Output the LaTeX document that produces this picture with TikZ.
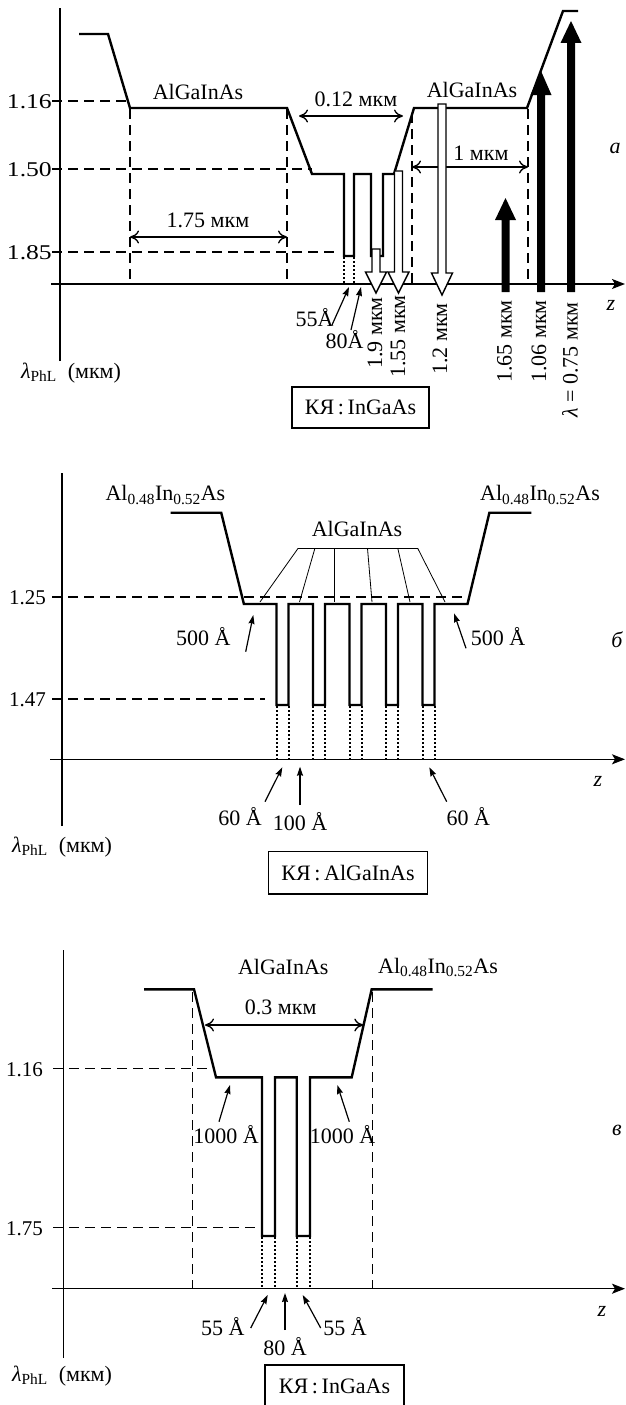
\documentclass[tikz,border=0pt]{standalone}
\usepackage{graphicx}
\usepackage{fontspec}
\setmainfont{Liberation Serif}
\usetikzlibrary{arrows.meta}
\tikzset{
  prof/.style={line width=2.4pt, line join=miter},
  axisline/.style={line width=1.4pt},
  axisarr/.style={line width=1.4pt, -{Stealth[length=13pt,width=10pt,inset=3pt]}},
  dsh/.style={line width=1.35pt, dash pattern=on 10pt off 6pt},
  dots/.style={line width=2pt, dash pattern=on 1.8pt off 2.2pt},
  dimarr/.style={line width=1.3pt, {Computer Modern Rightarrow[length=9pt,width=13pt]}-{Computer Modern Rightarrow[length=9pt,width=13pt]}},
  ann/.style={line width=1.2pt, -{Stealth[length=9pt,width=6pt,inset=1pt]}},
  lab/.style={inner sep=0pt, font=\fontsize{22}{26}\selectfont},
  ticklab/.style={inner sep=0pt, anchor=east, font=\fontsize{21}{25}\selectfont},
  fan/.style={line width=0.8pt},
  openarr/.style={line width=1.4pt, fill=white, draw=black, line join=miter},
  qbox/.style={draw, line width=1.2pt, inner sep=0pt, font=\fontsize{22}{26}\selectfont},
}
\begin{document}
\begin{tikzpicture}[x=1pt,y=-1pt]
\useasboundingbox (0,0) rectangle (625,1405);

%% ================= PANEL A =================
\coordinate (aY0) at (60,361); \coordinate (aY1) at (60,8);
\coordinate (aX0) at (51,284); \coordinate (aX1) at (625,284);
\draw[axisline] (aY0) -- (aY1);
\draw[axisarr] (aX0) -- (aX1);
% dashed level lines
\draw[dsh] (52,101) -- (128,101);
\draw[dsh] (52,169) -- (312,169);
\draw[dsh] (52,252) -- (338,252);
\node[ticklab] (aT1) at (52,102) {\scalebox{1.22}[1]{1.16}};
\node[ticklab] (aT2) at (52,170) {\scalebox{1.22}[1]{1.50}};
\node[ticklab] (aT3) at (52,253) {\scalebox{1.22}[1]{1.85}};
% vertical dashed
\draw[dsh] (130,109) -- (130,284);
\draw[dsh] (287,109) -- (287,284);
\draw[dsh] (412,113) -- (412,284);
\draw[dsh] (528,109) -- (528,284);
% dotted
\draw[dots] (344,257) -- (344,284);
\draw[dots] (354,257) -- (354,284);
% profile
\draw[prof] (79,34) -- (108,34) -- (130,108) -- (287,108) -- (312,174) -- (344,174)
  -- (344,256) -- (354,256) -- (354,174) -- (371,174) -- (371,256) -- (383,256)
  -- (383,174) -- (394,174) -- (414,108) -- (527,108) -- (563,11) -- (578,11);
% dimension arrows
\coordinate (aD1l) at (130,237); \coordinate (aD1r) at (287,237);
\draw[dimarr] (aD1l) -- (aD1r);
\coordinate (aD2l) at (299,116); \coordinate (aD2r) at (403,116);
\draw[dimarr] (aD2l) -- (aD2r);
\coordinate (aD3l) at (412,167); \coordinate (aD3r) at (528,167);
\draw[dimarr] (aD3l) -- (aD3r);
\node[lab] (aL175) at (208,220) {1.75 мкм};
\node[lab] (aL012) at (356,99) {0.12 мкм};
\node[lab] (aL1) at (481,153) {1 мкм};
\node[lab] (aAl1) at (198,92) {AlGaInAs};
\node[lab] (aAl2) at (472,90) {AlGaInAs};
% open arrows
\draw[openarr] (372,249) -- (380,249) -- (380,272) -- (386.5,272) -- (376,293) -- (365.5,272) -- (372,272) -- cycle;
\draw[openarr] (394.5,171) -- (402.5,171) -- (402.5,272) -- (409,272) -- (398.5,293) -- (388,272) -- (394.5,272) -- cycle;
\draw[openarr] (438,104) -- (446,104) -- (446,273) -- (452.5,273) -- (442,295) -- (431.5,273) -- (438,273) -- cycle;
% solid arrows
\fill (501.5,292) -- (509.5,292) -- (509.5,220) -- (516,220) -- (505.5,198) -- (495,220) -- (501.5,220) -- cycle;
\fill (537,292) -- (545,292) -- (545,95) -- (551.5,95) -- (541,71) -- (530.5,95) -- (537,95) -- cycle;
\fill (567,292) -- (575,292) -- (575,43) -- (581.5,43) -- (571,21) -- (560.5,43) -- (567,43) -- cycle;
% rotated labels
\node[lab, rotate=90, anchor=east] (aR1) at (375,297) {1.9 мкм};
\node[lab, rotate=90, anchor=east] (aR2) at (398,295) {1.55 мкм};
\node[lab, rotate=90, anchor=east] (aR3) at (440,303) {1.2 мкм};
\node[lab, rotate=90, anchor=east] (aR4) at (504.5,300) {1.65 мкм};
\node[lab, rotate=90, anchor=east] (aR5) at (539,300) {1.06 мкм};
\node[lab, rotate=90, anchor=east] (aR6) at (570,302) {{\itshape λ} = 0.75 мкм};
\node[lab] (aZ) at (611,305) {\itshape z};
\node[lab] (aP) at (615,148) {\itshape а};
% small annotations
\node[lab] (a55) at (314.5,318) {55Å};
\node[lab] (a80) at (344.5,340) {80Å};
\coordinate (a55s) at (332,325); \coordinate (a55e) at (349,287);
\coordinate (a80s) at (351,330); \coordinate (a80e) at (361,287);
\draw[ann] (a55s) -- (a55e);
\draw[ann] (a80s) -- (a80e);
\node[lab] (aLam) at (71,373) {{\itshape λ}\textsubscript{PhL}\ \ (мкм)};
\node[qbox, minimum width=137pt, minimum height=41pt] (aBox) at (360.5,407.5) {КЯ\,:\,InGaAs};

%% ================= PANEL B =================
\coordinate (bY0) at (62,826); \coordinate (bY1) at (62,473);
\coordinate (bX0) at (50,759.3); \coordinate (bX1) at (625,759.3);
\draw[axisline] (bY0) -- (bY1);
\draw[axisarr] (bX0) -- (bX1);
\draw[dsh] (52,597) -- (470,597);
\draw[dsh] (52,699) -- (265,699);
\node[ticklab] (bT1) at (46,598) {1.25};
\node[ticklab] (bT2) at (46,700) {1.47};
\foreach \xx in {276.5,288.5,313,325,349.5,361.5,386,398,422.5,434.5}
  \draw[dots] (\xx,706) -- (\xx,759.3);
\draw[prof] (170.6,512.7) -- (221.2,512.7) -- (243.9,604) -- (276.5,604)
  -- (276.5,705) -- (288.5,705) -- (288.5,604) -- (313,604)
  -- (313,705) -- (325,705) -- (325,604) -- (349.5,604)
  -- (349.5,705) -- (361.5,705) -- (361.5,604) -- (386,604)
  -- (386,705) -- (398,705) -- (398,604) -- (422.5,604)
  -- (422.5,705) -- (434.5,705) -- (434.5,604) -- (467.5,604)
  -- (489.4,512.7) -- (531.3,512.7);
% fan
\draw[fan] (298.1,548.3) -- (417.7,548.3);
\draw[fan] (298.1,548.3) -- (260,602);
\draw[fan] (314.9,548.3) -- (299.5,602);
\draw[fan] (334.5,548.3) -- (334.5,602);
\draw[fan] (367.5,548.3) -- (372,602);
\draw[fan] (397.8,548.3) -- (410,602);
\draw[fan] (417.7,548.3) -- (445,602);
\node[lab] (bAl) at (357,529.3) {AlGaInAs};
\node[lab] (bAIl) at (165.4,495) {Al\textsubscript{0.48}In\textsubscript{0.52}As};
\node[lab] (bAIr) at (540,495) {Al\textsubscript{0.48}In\textsubscript{0.52}As};
\node[lab] (b500l) at (203.3,636.7) {500 Å};
\node[lab] (b500r) at (498,636.7) {500 Å};
\coordinate (b5ls) at (245.7,651.7); \coordinate (b5le) at (253.3,615);
\coordinate (b5rs) at (466,648.3); \coordinate (b5re) at (454,613.3);
\draw[ann] (b5ls) -- (b5le);
\draw[ann] (b5rs) -- (b5re);
\node[lab] (b60l) at (240,816.7) {60 Å};
\node[lab] (b100) at (300,821.7) {100 Å};
\node[lab] (b60r) at (468.3,816.7) {60 Å};
\coordinate (b6ls) at (265,801.7); \coordinate (b6le) at (282.3,767.3);
\coordinate (b10s) at (300,805); \coordinate (b10e) at (300,766.7);
\coordinate (b6rs) at (446.7,801.7); \coordinate (b6re) at (429.3,767.3);
\draw[ann] (b6ls) -- (b6le);
\draw[ann] (b10s) -- (b10e);
\draw[ann] (b6rs) -- (b6re);
\node[lab] (bZ) at (598,781.7) {\itshape z};
\node[lab] (bP) at (617,640) {\itshape б};
\node[lab] (bLam) at (62,846.7) {{\itshape λ}\textsubscript{PhL}\ \ (мкм)};
\node[qbox, minimum width=159.4pt, minimum height=42.3pt] (bBox) at (348,872.85) {КЯ\,:\,AlGaInAs};

%% ================= PANEL C =================
\coordinate (cY0) at (63.3,1358); \coordinate (cY1) at (63.3,950);
\coordinate (cX0) at (52,1288.7); \coordinate (cX1) at (625,1288.7);
\draw[axisline] (cY0) -- (cY1);
\draw[axisarr] (cX0) -- (cX1);
\draw[dsh] (53,1068.3) -- (213,1068.3);
\draw[dsh] (53,1227.3) -- (260,1227.3);
\node[ticklab] (cT1) at (43,1069.3) {1.16};
\node[ticklab] (cT2) at (43,1228.3) {1.75};
\draw[dsh] (192.7,992) -- (192.7,1288.7);
\draw[dsh] (372.7,992) -- (372.7,1288.7);
\foreach \xx in {262.2,275,296.7,309.6}
  \draw[dots] (\xx,1237) -- (\xx,1288.7);
\draw[prof] (144,989.3) -- (194,989.3) -- (216,1077.3) -- (262,1077.3)
  -- (262,1236) -- (275,1236) -- (275,1077.3) -- (296.7,1077.3)
  -- (296.7,1236) -- (310,1236) -- (310,1077.3) -- (351.7,1077.3)
  -- (371.7,989.3) -- (432.7,989.3);
\coordinate (cDl) at (205,1025); \coordinate (cDr) at (363.3,1025);
\draw[dimarr] (cDl) -- (cDr);
\node[lab] (cL03) at (280.7,1007.3) {0.3 мкм};
\node[lab] (cAl) at (283.3,967.3) {AlGaInAs};
\node[lab] (cAI) at (438,967.3) {Al\textsubscript{0.48}In\textsubscript{0.52}As};
\node[lab] (c1000l) at (226,1135) {1000 Å};
\node[lab] (c1000r) at (342.5,1135) {1000 Å};
\coordinate (c1ls) at (219,1121.7); \coordinate (c1le) at (230,1085);
\coordinate (c1rs) at (349.3,1121.7); \coordinate (c1re) at (337.3,1085);
\draw[ann] (c1ls) -- (c1le);
\draw[ann] (c1rs) -- (c1re);
\node[lab] (c55l) at (222.7,1326.7) {55 Å};
\node[lab] (c80) at (285,1347) {80 Å};
\node[lab] (c55r) at (345,1326.7) {55 Å};
\coordinate (c5ls) at (250.7,1328); \coordinate (c5le) at (267.7,1295);
\coordinate (c8s) at (285,1330); \coordinate (c8e) at (285,1293);
\coordinate (c5rs) at (320.7,1328); \coordinate (c5re) at (302.7,1295);
\draw[ann] (c5ls) -- (c5le);
\draw[ann] (c8s) -- (c8e);
\draw[ann] (c5rs) -- (c5re);
\node[lab] (cZ) at (602,1311.7) {\itshape z};
\node[lab] (cP) at (617,1130) {\itshape в};
\node[lab] (cLam) at (62,1375.7) {{\itshape λ}\textsubscript{PhL}\ \ (мкм)};
\node[qbox, minimum width=139pt, minimum height=42pt] (cBox) at (334.5,1386) {КЯ\,:\,InGaAs};
\end{tikzpicture}
\end{document}
